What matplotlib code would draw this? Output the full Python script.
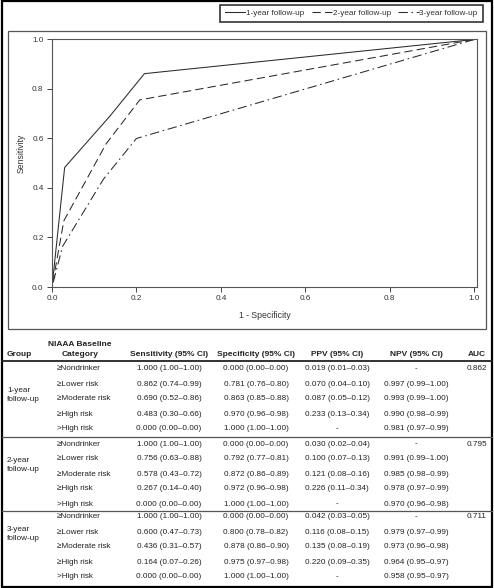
import matplotlib
matplotlib.use("Agg")
import matplotlib.pyplot as plt
from matplotlib.lines import Line2D
from matplotlib.patches import Rectangle

plt.rcParams['font.family'] = ['Liberation Sans', 'DejaVu Sans']

# ---------------- data ----------------
groups = ["1-year\nfollow-up", "2-year\nfollow-up", "3-year\nfollow-up"]
legend_labels = ["1-year follow-up", "2-year follow-up", "3-year follow-up"]
categories = ["≥Nondrinker", "≥Lower risk", "≥Moderate risk", "≥High risk", ">High risk"]

sens = [[1.000, 0.862, 0.690, 0.483, 0.000],
        [1.000, 0.756, 0.578, 0.267, 0.000],
        [1.000, 0.600, 0.436, 0.164, 0.000]]
sens_lo = [[1.00, 0.74, 0.52, 0.30, 0.00],
           [1.00, 0.63, 0.43, 0.14, 0.00],
           [1.00, 0.47, 0.31, 0.07, 0.00]]
sens_hi = [[1.00, 0.99, 0.86, 0.66, 0.00],
           [1.00, 0.88, 0.72, 0.40, 0.00],
           [1.00, 0.73, 0.57, 0.26, 0.00]]

spec = [[0.000, 0.781, 0.863, 0.970, 1.000],
        [0.000, 0.792, 0.872, 0.972, 1.000],
        [0.000, 0.800, 0.878, 0.975, 1.000]]
spec_lo = [[0.00, 0.76, 0.85, 0.96, 1.00],
           [0.00, 0.77, 0.86, 0.96, 1.00],
           [0.00, 0.78, 0.86, 0.97, 1.00]]
spec_hi = [[0.00, 0.80, 0.88, 0.98, 1.00],
           [0.00, 0.81, 0.89, 0.98, 1.00],
           [0.00, 0.82, 0.90, 0.98, 1.00]]

ppv = [[0.019, 0.070, 0.087, 0.233, None],
       [0.030, 0.100, 0.121, 0.226, None],
       [0.042, 0.116, 0.135, 0.220, None]]
ppv_lo = [[0.01, 0.04, 0.05, 0.13, None],
          [0.02, 0.07, 0.08, 0.11, None],
          [0.03, 0.08, 0.08, 0.09, None]]
ppv_hi = [[0.03, 0.10, 0.12, 0.34, None],
          [0.04, 0.13, 0.16, 0.34, None],
          [0.05, 0.15, 0.19, 0.35, None]]

npv = [[None, 0.997, 0.993, 0.990, 0.981],
       [None, 0.991, 0.985, 0.978, 0.970],
       [None, 0.979, 0.973, 0.964, 0.958]]
npv_lo = [[None, 0.99, 0.99, 0.98, 0.97],
          [None, 0.99, 0.98, 0.97, 0.96],
          [None, 0.97, 0.96, 0.95, 0.95]]
npv_hi = [[None, 1.00, 1.00, 0.99, 0.99],
          [None, 1.00, 0.99, 0.99, 0.98],
          [None, 0.99, 0.98, 0.97, 0.97]]

auc = [0.862, 0.795, 0.711]

x_ticks = [0.0, 0.2, 0.4, 0.6, 0.8, 1.0]
y_ticks = [0.0, 0.2, 0.4, 0.6, 0.8, 1.0]

# ---------------- figure ----------------
W, H = 494, 588
fig = plt.figure(figsize=(W / 100, H / 100), dpi=100)

def fx(x):
    return x / W

def fy(y):
    return 1 - y / H

FS = 5.9
TXT = "#222222"
LINEC = "#2a2a2a"

# ROC axes
ax_l, ax_r, ax_t, ax_b = 52, 477, 38.5, 287
ax = fig.add_axes([fx(ax_l), fy(ax_b), (ax_r - ax_l) / W, (ax_b - ax_t) / H])
styles = ["-", (0, (8, 4)), (0, (9, 3.5, 1.5, 3.5))]
for i in range(3):
    xs = [1 - s for s in spec[i]]
    ax.plot(xs, sens[i], color=LINEC, lw=0.75, linestyle=styles[i], label=legend_labels[i])
ax.set_xlim(0, 1.007)
ax.set_ylim(0, 1.004)
ax.set_xticks(x_ticks)
ax.set_yticks(y_ticks)
ax.set_xticklabels([f"{v:.1f}" for v in x_ticks])
ax.set_yticklabels([f"{v:.1f}" for v in y_ticks])
ax.tick_params(direction="out", length=3.6, width=0.7, color="#444444",
               labelsize=FS, labelcolor="#333333", pad=2.5,
               top=False, right=False)
for sp in ax.spines.values():
    sp.set_color("#555555")
    sp.set_linewidth(0.8)

fig.text(fx(21), fy(153), "Sensitivity", rotation=90, ha="center", va="center",
         fontsize=FS + 0.3, color="#333333")
fig.text(fx(264.5), fy(315), "1 - Specificity", ha="center", va="center",
         fontsize=FS + 0.3, color="#333333")

# legend
handles, labels = ax.get_legend_handles_labels()
leg = fig.legend(handles, labels, loc="upper right", ncol=3,
                 bbox_to_anchor=(fx(482.5), fy(4.5)), frameon=True, fancybox=False,
                 fontsize=FS, handlelength=2.5, handletextpad=0.1,
                 columnspacing=0.85, borderpad=0.6, borderaxespad=0)
leg.get_frame().set_edgecolor("black")
leg.get_frame().set_linewidth(1.2)
for t in leg.get_texts():
    t.set_color("#333333")

# panel box around plot
fig.add_artist(Rectangle((fx(8), fy(329)), (486 - 8) / W, (329 - 31) / H,
                         transform=fig.transFigure, fill=False,
                         edgecolor="#555555", lw=0.9))

# outer frame
fig.add_artist(Rectangle((fx(2), fy(586.5)), (491.5 - 2) / W, (586.5 - 1) / H,
                         transform=fig.transFigure, fill=False,
                         edgecolor="black", lw=1.6))

# ---------------- table ----------------
col_group = 7
col_cat = 57
col_cat_head = 80
col_sens = 169
col_spec = 256
col_ppv = 337
col_npv = 416
col_auc = 477

hdr_kw = dict(fontsize=FS + 0.1, fontweight="bold", color=TXT, va="center")
fig.text(fx(col_group), fy(354), "Group", ha="left", **hdr_kw)
fig.text(fx(col_cat_head), fy(345), "NIAAA Baseline", ha="center", **hdr_kw)
fig.text(fx(col_cat_head), fy(354.5), "Category", ha="center", **hdr_kw)
fig.text(fx(col_sens), fy(354), "Sensitivity (95% CI)", ha="center", **hdr_kw)
fig.text(fx(col_spec), fy(354), "Specificity (95% CI)", ha="center", **hdr_kw)
fig.text(fx(col_ppv), fy(354), "PPV (95% CI)", ha="center", **hdr_kw)
fig.text(fx(col_npv), fy(354), "NPV (95% CI)", ha="center", **hdr_kw)
fig.text(fx(col_auc), fy(354), "AUC", ha="center", **hdr_kw)

def hline(y, lw, color):
    fig.add_artist(Line2D([fx(2), fx(491.5)], [fy(y), fy(y)],
                          transform=fig.transFigure, color=color, lw=lw))

hline(360.5, 1.3, "#222222")
hline(437, 0.9, "#555555")
hline(511, 0.9, "#555555")

row_y = [[369, 384, 399, 414, 429],
         [444, 459, 474, 489, 504],
         [517, 532, 547, 562, 577]]
group_label_y = [395, 465, 534]

def fmt(v, lo, hi):
    if v is None:
        return "-"
    return f"{v:.3f} ({lo:.2f}\u2013{hi:.2f})"

cell_kw = dict(fontsize=FS, color=TXT, va="center")
for g in range(3):
    fig.text(fx(col_group), fy(group_label_y[g]), groups[g], ha="left",
             linespacing=1.25, **cell_kw)
    for r in range(5):
        y = fy(row_y[g][r])
        fig.text(fx(col_cat), y, categories[r], ha="left", **cell_kw)
        fig.text(fx(col_sens), y, fmt(sens[g][r], sens_lo[g][r], sens_hi[g][r]), ha="center", **cell_kw)
        fig.text(fx(col_spec), y, fmt(spec[g][r], spec_lo[g][r], spec_hi[g][r]), ha="center", **cell_kw)
        fig.text(fx(col_ppv), y, fmt(ppv[g][r], ppv_lo[g][r], ppv_hi[g][r]), ha="center", **cell_kw)
        fig.text(fx(col_npv), y, fmt(npv[g][r], npv_lo[g][r], npv_hi[g][r]), ha="center", **cell_kw)
    fig.text(fx(col_auc), fy(row_y[g][0]), f"{auc[g]:.3f}", ha="center", **cell_kw)

fig.savefig("out.png", dpi=100)
